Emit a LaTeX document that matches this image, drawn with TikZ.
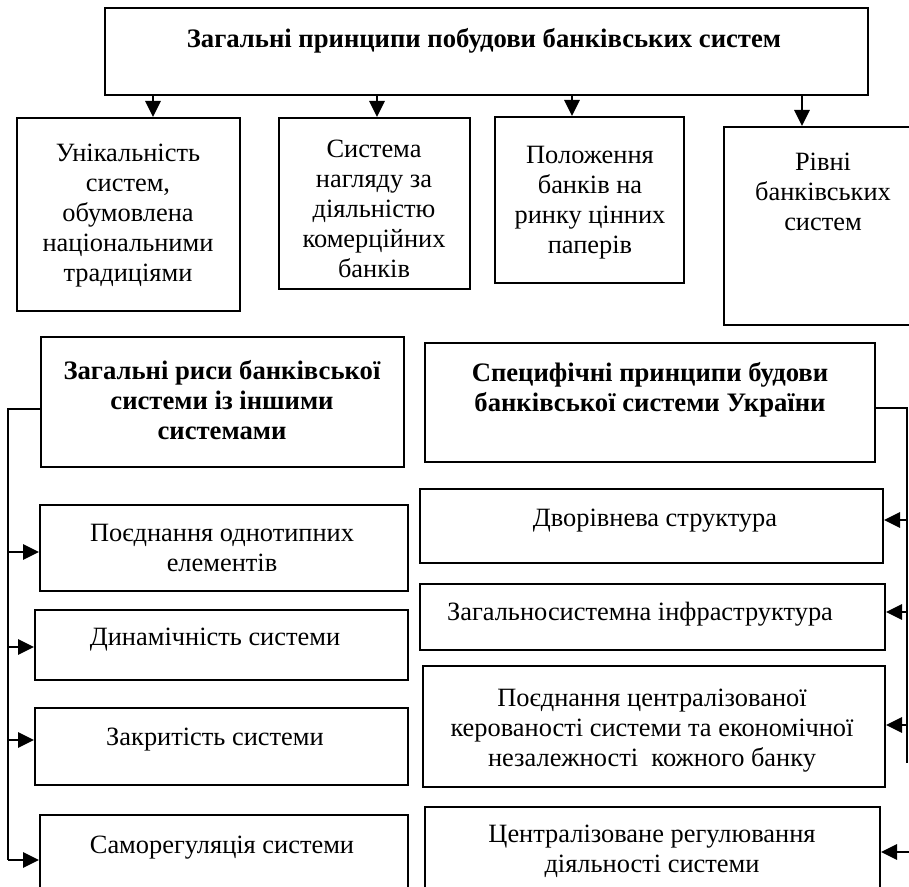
\documentclass[tikz,border=0pt]{standalone}
\usepackage{fontspec}
\setmainfont{Liberation Serif}
\usetikzlibrary{fit,arrows.meta}
\begin{document}
\begin{tikzpicture}[x=0.75pt,y=-0.75pt,
  box/.style={draw, line width=1.5pt, inner sep=0pt},
  txt/.style={align=center, inner sep=0pt, font=\fontsize{19.8}{22.5}\selectfont},
  btxt/.style={align=center, inner sep=0pt, font=\fontsize{20}{22.5}\selectfont\bfseries},
  conn/.style={line width=1.3pt},
  arr/.style={line width=1.7pt, -{Triangle[width=11.5pt,length=12pt]}}]
\useasboundingbox (0,0) rectangle (909,887);
% top
\node[box, fit={(105,8) (868,95)}] (T) {};
\node[btxt] (Tt) at (484,41) {Загальні принципи побудови банківських систем};
% row 2
\node[box, fit={(17,118) (240,311)}] (B1) {};
\node[txt] (B1t) at (128,216) {Унікальність\\систем,\\обумовлена\\національними\\традиціями};
\node[box, fit={(279,118) (470,289)}] (B2) {};
\node[txt] (B2t) at (374,209) {Система\\нагляду за\\діяльністю\\комерційних\\банків};
\node[box, fit={(495,117) (684,283)}] (B3) {};
\node[txt] (B3t) at (590,203) {Положення\\банків на\\ринку цінних\\паперів};
\node[box, fit={(724,127) (925,325)}] (B4) {};
\node[txt] (B4t) at (823,192) {Рівні\\банківських\\систем};
\coordinate (a1) at (153,0);
\coordinate (a2) at (377,0);
\coordinate (a3) at (572,0);
\coordinate (a4) at (802,0);
\draw[arr] (T.south -| a1) -- (B1.north -| a1);
\draw[arr] (T.south -| a2) -- (B2.north -| a2);
\draw[arr] (T.south -| a3) -- (B3.north -| a3);
\draw[arr] (T.south -| a4) -- (B4.north -| a4);
% row 3
\node[box, fit={(41,337) (404,467)}] (L) {};
\node[btxt] (Lt) at (222,400) {Загальні риси банківської\\системи із іншими\\системами};
\node[box, fit={(425,343) (875,462)}] (R) {};
\node[btxt] (Rt) at (650,390) {Специфічні принципи будови\\банківської системи України};
% left column
\node[box, fit={(40,505) (408,591)}] (P1) {};
\node[txt] (P1t) at (222,548) {Поєднання однотипних\\елементів};
\node[box, fit={(35,610) (408,680)}] (P2) {};
\node[txt] (P2t) at (215,640) {Динамічність системи};
\node[box, fit={(35,708) (408,785)}] (P3) {};
\node[txt] (P3t) at (215,740) {Закритість системи};
\node[box, fit={(40,815) (408,900)}] (P4) {};
\node[txt] (P4t) at (222,848) {Саморегуляція системи};
\coordinate (lx) at (8,409);
\coordinate (lb) at (8,860);
\draw[conn] (L.west |- lx) -- (lx) -- (lb);
\coordinate (ly1) at (0,552);
\coordinate (ly2) at (0,647);
\coordinate (ly3) at (0,740);
\draw[arr] (lx |- ly1) -- (P1.west |- ly1);
\draw[arr] (lx |- ly2) -- (P2.west |- ly2);
\draw[arr] (lx |- ly3) -- (P3.west |- ly3);
\draw[arr] (lb) -- (P4.west |- lb);
% right column
\node[box, fit={(420,489) (883,563)}] (Q1) {};
\node[txt] (Q1t) at (655,521) {Дворівнева структура};
\node[box, fit={(420,584) (885,650)}] (Q2) {};
\node[txt] (Q2t) at (640,614) {Загальносистемна інфраструктура};
\node[box, fit={(423,666) (885,787)}] (Q3) {};
\node[txt] (Q3t) at (652,731) {Поєднання централізованої\\керованості системи та економічної\\незалежності\ \ кожного банку};
\node[box, fit={(425,807) (880,900)}] (Q4) {};
\node[txt] (Q4t) at (652,851) {Централізоване регулювання\\діяльності системи};
\coordinate (rx) at (907,408);
\coordinate (rb) at (907,763);
\draw[conn] (R.east |- rx) -- (rx) -- (rb);
\coordinate (ry1) at (0,520);
\coordinate (ry2) at (0,612);
\coordinate (ry3) at (0,725);
\coordinate (ry4) at (909,852);
\draw[arr] (rx |- ry1) -- (Q1.east |- ry1);
\draw[arr] (rx |- ry2) -- (Q2.east |- ry2);
\draw[arr] (rx |- ry3) -- (Q3.east |- ry3);
\draw[arr] (ry4) -- (Q4.east |- ry4);
\end{tikzpicture}
\end{document}
